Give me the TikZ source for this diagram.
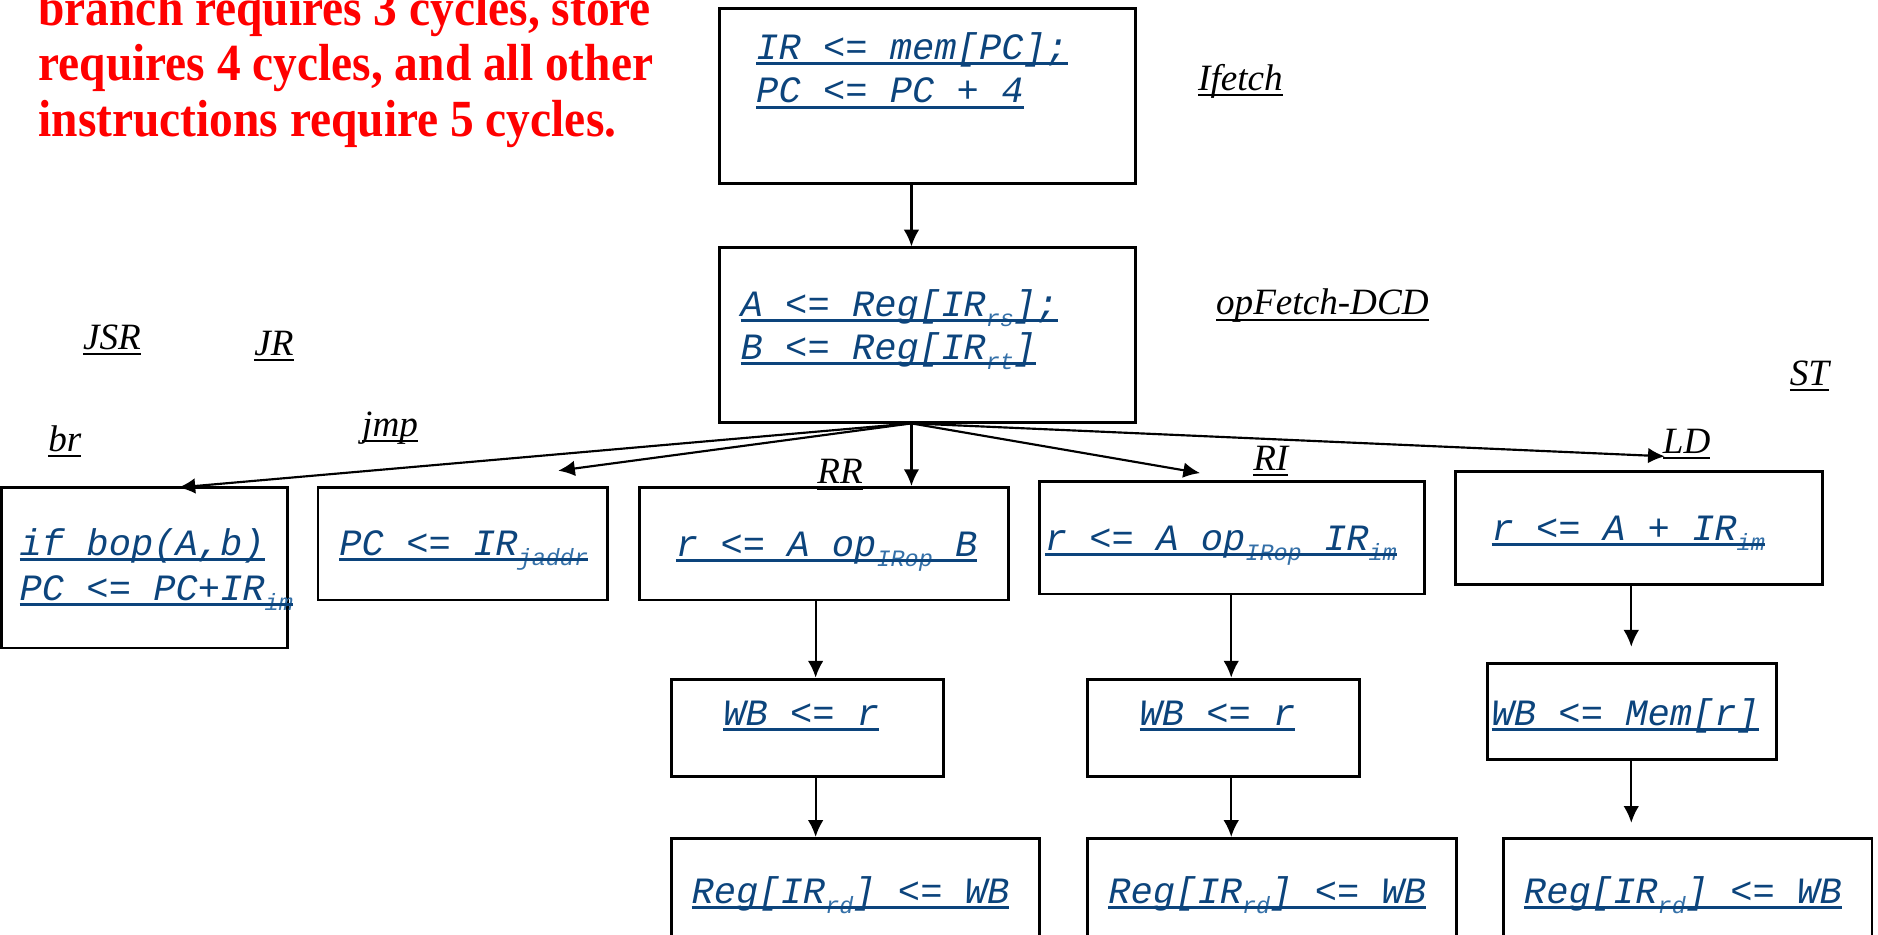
\documentclass[tikz,border=0pt]{standalone}
\usepackage{graphicx}
\usepackage{fontspec}
\setmainfont{Liberation Serif}
\newfontfamily\codefont{Liberation Mono}
\usetikzlibrary{arrows.meta,fit}

\definecolor{codeblue}{RGB}{12,68,124}
\definecolor{subblue}{RGB}{52,112,168}
\definecolor{alertred}{RGB}{255,0,0}

% underline drawn over the text (so it crosses the subscripts)
\newsavebox\ulbox
\newcommand\codeul[1]{\sbox\ulbox{#1}\usebox\ulbox\kern-\wd\ulbox{\color{codeblue}\rule[-2.3pt]{\wd\ulbox}{1.25pt}}}
\newcommand\labul[1]{\sbox\ulbox{#1}\usebox\ulbox\kern-\wd\ulbox\rule[-2.4pt]{\wd\ulbox}{0.9pt}}
% register-field subscript
\newcommand\lowidx[1]{\raisebox{-4.2pt}{\fontsize{9.8pt}{10pt}\selectfont\color{subblue}#1}}
% slightly tall bold note text
\newcommand\tallnote[1]{\scalebox{1}[1.1]{#1}}

\tikzset{
  box/.style={draw, line width=1.2pt, inner sep=0pt},
  code/.style={anchor=base west, inner sep=0pt, text=codeblue,
               font=\codefont\itshape\fontsize{15.5pt}{18pt}\selectfont},
  lab/.style={anchor=base west, inner sep=0pt,
              font=\itshape\fontsize{15.5pt}{18pt}\selectfont},
  warnline/.style={anchor=base west, inner sep=0pt, text=alertred,
                   font=\bfseries\fontsize{19.8pt}{23.5pt}\selectfont},
  arr/.style={-{Latex[length=7pt,width=6.5pt]}, line width=0.9pt},
}

\begin{document}
\begin{tikzpicture}[x=0.5pt, y=-0.5pt]
\useasboundingbox (0,0) rectangle (1568,780);
\clip (0,0) rectangle (1568,780);
\fill[white] (0,0) rectangle (1568,780);

% note on cycle counts
\node[warnline] (note1) at (31.7,21)  {\tallnote{branch requires 3 cycles, store}};
\node[warnline] (note2) at (31.7,67.5) {\tallnote{requires 4 cycles, and all other}};
\node[warnline] (note3) at (31.7,114) {\tallnote{instructions require 5 cycles.}};

% state boxes
\node[box, fit={(601,7) (948,153)}]    (ifetch) {};
\node[box, fit={(601,207) (948,353)}]  (decode) {};
\node[box, fit={(1.5,407) (240,541)}]  (br) {};
\node[box, fit={(265.5,407) (507,501)}]  (jmp) {};
\node[box, fit={(534,407) (842,501)}]  (rr) {};
\node[box, fit={(868,402) (1189,496)}] (ri) {};
\node[box, fit={(1215,394) (1522,488)}] (ld) {};
\node[box, fit={(561,567) (788,648)}]  (wb1) {};
\node[box, fit={(908,567) (1135,648)}] (wb2) {};
\node[box, fit={(1242,554) (1483,634)}] (wb3) {};
\node[box, fit={(561,700) (868,800)}]  (reg1) {};
\node[box, fit={(908,700) (1216,800)}] (reg2) {};
\node[box, fit={(1255,700) (1563,800)}] (reg3) {};

% register transfers
\node[code] (c1a) at (631,50)  {\codeul{IR <= mem[PC];}};
\node[code] (c1b) at (631,86)  {\codeul{PC <= PC + 4}};
\node[code] (c2a) at (618,264) {\codeul{A <= Reg[IR\lowidx{rs}];}};
\node[code] (c2b) at (618,300) {\codeul{B <= Reg[IR\lowidx{rt}]}};
\node[code] (c3a) at (16,464)  {\codeul{if bop(A,b)}};
\node[code] (c3b) at (16,501)  {\codeul{PC <= PC+IR\lowidx{im}}};
\node[code] (c4)  at (283,464) {\codeul{PC <= IR\lowidx{jaddr}}};
\node[code] (c5)  at (564,464.5) {\codeul{r <= A op\lowidx{IRop} B}};
\node[code] (c6)  at (872,459.5) {\codeul{r <= A op\lowidx{IRop} IR\lowidx{im}}};
\node[code] (c7)  at (1245,451) {\codeul{r <= A + IR\lowidx{im}}};
\node[code] (c8)  at (603.5,606) {\codeul{WB <= r}};
\node[code] (c9)  at (951,606)  {\codeul{WB <= r}};
\node[code] (c10) at (1245,606) {\codeul{WB <= Mem[r]}};
\node[code] (c11) at (577,754)  {\codeul{Reg[IR\lowidx{rd}] <= WB}};
\node[code] (c12) at (925,754)  {\codeul{Reg[IR\lowidx{rd}] <= WB}};
\node[code] (c13) at (1272,754) {\codeul{Reg[IR\lowidx{rd}] <= WB}};

% state and opcode labels
\node[lab] (lIfetch) at (1000,75.6) {\labul{Ifetch}};
\node[lab] (lDcd)    at (1015,263)  {\labul{opFetch-DCD}};
\node[lab] (lJSR)    at (69,292)    {\labul{JSR}};
\node[lab] (lJR)     at (212,297)   {\labul{JR}};
\node[lab] (lbr)     at (40,377)    {\labul{br}};
\node[lab] (ljmp)    at (302,364.5) {\labul{jmp}};
\node[lab] (lRR)     at (682,404)   {\labul{RR}};
\node[lab] (lRI)     at (1046,393)  {\labul{RI}};
\node[lab] (lLD)     at (1388,378.5) {\labul{LD}};
\node[lab] (lST)     at (1494,321.5) {\labul{ST}};

% connectors
\coordinate (hub)    at (761,353.5);
\coordinate (tipbr)  at (149,407);
\coordinate (tipjmp) at (466,393);
\coordinate (tipri)  at (1002,395);
\coordinate (tipld)  at (1390,381);
\coordinate (colrr)  at (681,0);
\coordinate (colri)  at (1028,0);
\coordinate (colld)  at (1362,0);
\coordinate (tipwb3) at (1362,540);
\coordinate (tipreg3) at (1362,687);

\draw[arr] (ifetch.south -| hub) -- (decode.north -| hub);
\draw[arr] (hub) -- (tipbr);
\draw[arr] (hub) -- (tipjmp);
\draw[arr] (hub) -- (rr.north -| hub);
\draw[arr] (hub) -- (tipri);
\draw[arr] (hub) -- (tipld);
\draw[arr] (rr.south -| colrr) -- (wb1.north -| colrr);
\draw[arr] (wb1.south -| colrr) -- (reg1.north -| colrr);
\draw[arr] (ri.south -| colri) -- (wb2.north -| colri);
\draw[arr] (wb2.south -| colri) -- (reg2.north -| colri);
\draw[arr] (ld.south -| colld) -- (tipwb3);
\draw[arr] (wb3.south -| colld) -- (tipreg3);
\end{tikzpicture}
\end{document}
